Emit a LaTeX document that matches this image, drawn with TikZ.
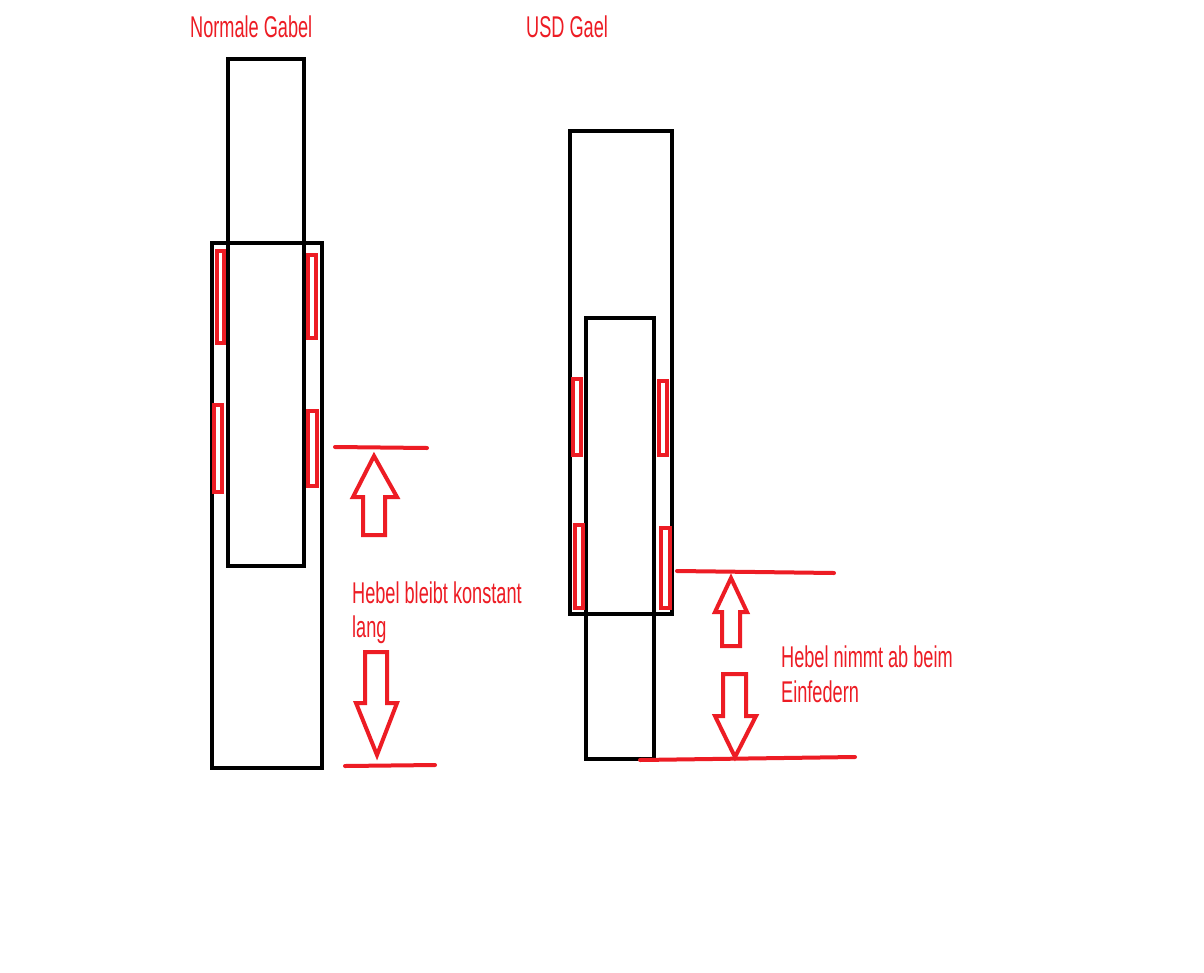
\documentclass[tikz,border=0pt]{standalone}
\usepackage{fontspec}
\setmainfont[FakeStretch=0.605]{Liberation Sans}
\definecolor{paintred}{HTML}{ED1C24}
\begin{document}
\begin{tikzpicture}[x=1pt,y=-1pt,
  tube/.style={draw=black,line width=4pt},
  bush/.style={draw=paintred,line width=3.5pt},
  level/.style={draw=paintred,line width=4pt,line cap=round},
  hollowarrow/.style={draw=paintred,line width=4pt,line join=miter},
  lbl/.style={text=paintred,font=\fontsize{30}{34}\selectfont,inner sep=0pt,anchor=base west}]
\fill[white] (0,0) rectangle (1204,972);
\useasboundingbox (0,0) rectangle (1204,972);

% titles
\node[lbl] (t1) at (190,37) {Normale Gabel};
\node[lbl] (t2) at (526,37) {USD Gael};

% ---- normal fork ----
\draw[tube] (228,59) rectangle (304,566);
\draw[tube] (212,243) rectangle (322,768);
\draw[bush] (217,251) rectangle (224,343);
\draw[bush] (308,255) rectangle (316,338);
\draw[bush] (214,405) rectangle (222,492);
\draw[bush] (308,411) rectangle (317,486);

\coordinate (l1a) at (335,447); \coordinate (l1b) at (427,448);
\draw[level] (l1a) -- (l1b);
\coordinate (l2a) at (345,766); \coordinate (l2b) at (435,765);
\draw[level] (l2a) -- (l2b);
\draw[hollowarrow] (363,535) -- (363,497) -- (353,497) -- (374,456) -- (397,497) -- (385,497) -- (385,535) -- cycle;
\draw[hollowarrow] (365,652) -- (387,652) -- (387,703) -- (397,703) -- (377,755) -- (356,703) -- (365,703) -- cycle;
\node[lbl] (h1) at (352,603) {\vtop{\baselineskip=34pt\hbox{Hebel bleibt konstant}\hbox{lang}}};

% ---- USD fork ----
\draw[tube] (570,131) rectangle (672,614);
\draw[tube] (586,318) rectangle (654,759);
\draw[bush] (573,379) rectangle (581,455);
\draw[bush] (659,381) rectangle (667,455);
\draw[bush] (575,525) rectangle (583,608);
\draw[bush] (661,528) rectangle (670,608);

\coordinate (r1a) at (677,571); \coordinate (r1b) at (834,573);
\draw[level] (r1a) -- (r1b);
\coordinate (r2a) at (640,760); \coordinate (r2b) at (855,757);
\draw[level] (r2a) -- (r2b);
\draw[hollowarrow] (722,646) -- (722,612) -- (715,612) -- (731,578) -- (747,612) -- (740,612) -- (740,646) -- cycle;
\draw[hollowarrow] (723,674) -- (746,674) -- (746,716) -- (756,716) -- (735,757) -- (715,716) -- (723,716) -- cycle;
\node[lbl] (h2) at (781,667) {\vtop{\baselineskip=35pt\hbox{Hebel nimmt ab beim}\hbox{Einfedern}}};
\end{tikzpicture}
\end{document}
